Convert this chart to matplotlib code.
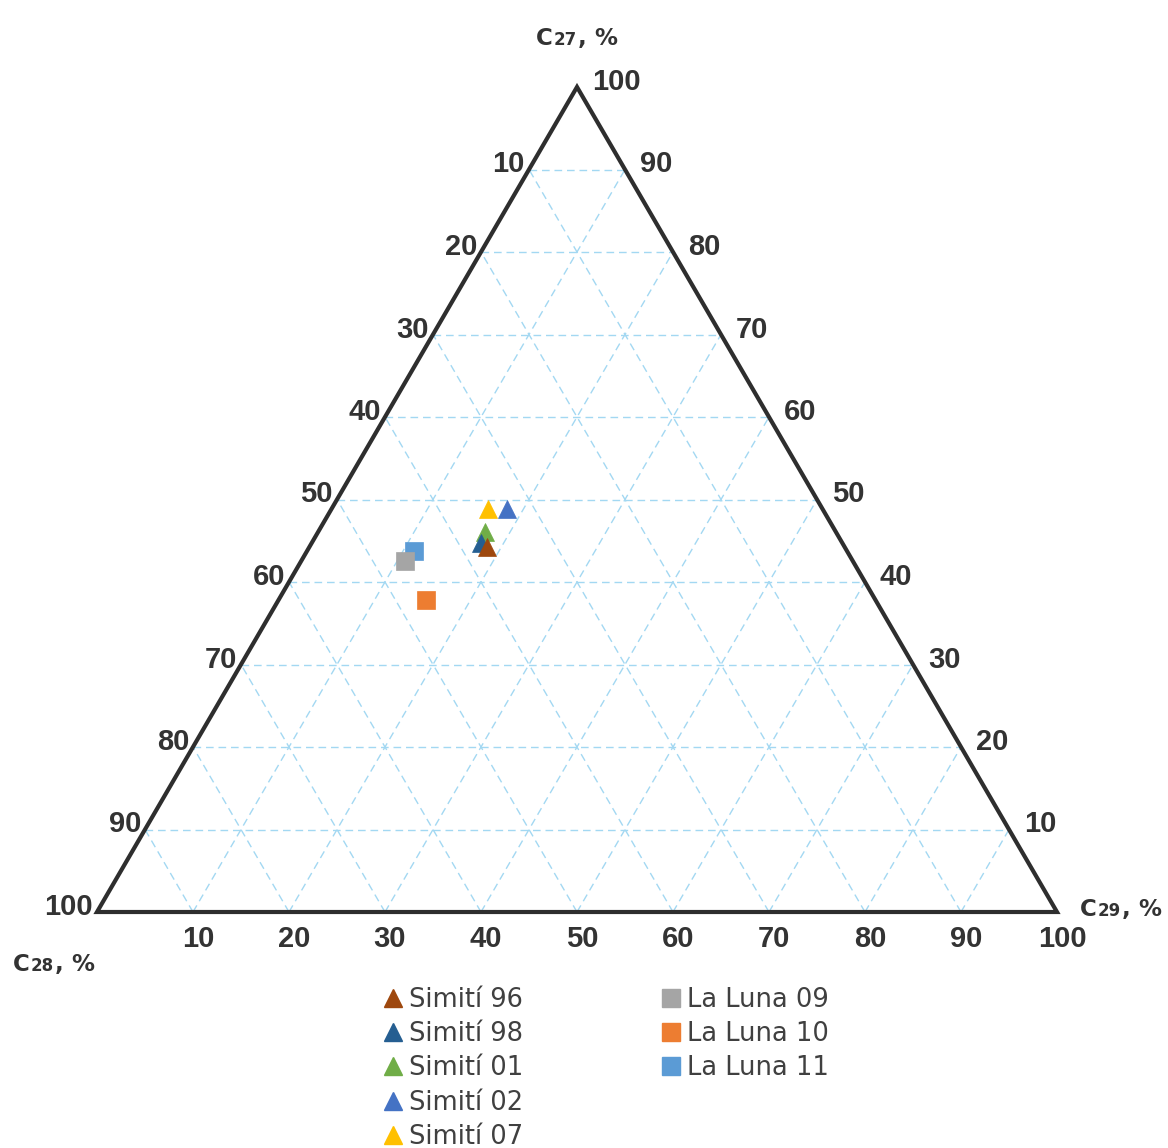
import matplotlib
matplotlib.use("Agg")
import matplotlib.pyplot as plt
from matplotlib.patches import Polygon
from matplotlib.lines import Line2D
from matplotlib.transforms import offset_copy

plt.rcParams["font.family"] = ["Liberation Sans", "DejaVu Sans"]

# Sterane composition (%): C27, C28, C29
simiti_names = ["Simití 96", "Simití 98", "Simití 01", "Simití 02", "Simití 07"]
simiti_c27 = [44.2, 44.7, 46.1, 48.9, 48.9]
simiti_c28 = [37.3, 37.7, 36.5, 32.8, 34.8]
simiti_c29 = [18.5, 17.6, 17.4, 18.3, 16.3]
simiti_colors = ["#9e480e", "#255e91", "#70ad47", "#4472c4", "#ffc000"]

luna_names = ["La Luna 09", "La Luna 10", "La Luna 11"]
luna_c27 = [42.6, 37.8, 43.7]
luna_c28 = [46.6, 46.8, 45.1]
luna_c29 = [10.8, 15.4, 11.2]
luna_colors = ["#a5a5a5", "#ed7d31", "#5b9bd5"]

tick_values = [10, 20, 30, 40, 50, 60, 70, 80, 90, 100]

TEXT = "#333333"
GRID = "#a3d8f2"


def to_xy(c27, c28, c29):
    s = c27 + c28 + c29
    a, c = c27 / s * 100, c29 / s * 100
    return c + a / 2.0, a


fig = plt.figure(figsize=(11.68, 11.48), dpi=100)
ax = fig.add_axes([0, 0, 1, 1])
ax.set_xlim(-97 / 9.6, (1168 - 97) / 9.6)
ax.set_ylim((912 - 1148) / 8.25, 912 / 8.25)
ax.axis("off")


def off(dx, dy):
    return offset_copy(ax.transData, fig=fig, x=dx, y=dy, units="dots")


# dashed ternary grid
for k in range(10, 100, 10):
    gl = dict(color=GRID, lw=1.0, ls=(0, (5.5, 3.5)), zorder=1)
    ax.plot([k / 2, 100 - k / 2], [k, k], **gl)                 # constant C27
    ax.plot([k, (100 + k) / 2], [0, 100 - k], **gl)             # constant C29
    ax.plot([100 - k, (100 - k) / 2], [0, 100 - k], **gl)       # constant C28

# triangle frame
ax.add_patch(Polygon([[0, 0], [100, 0], [50, 100]], closed=True, fill=False,
                     edgecolor="#2e2e2e", lw=3.0, joinstyle="miter", zorder=3))

tick_kw = dict(fontsize=21, fontweight="bold", color=TEXT, zorder=4)
for v in tick_values:
    # C29 along the base
    ax.text(v, 0, str(v), transform=off(5, -27), ha="center", va="center", **tick_kw)
    # C28 along the left side
    ax.text((100 - v) / 2, 100 - v, str(v), transform=off(-4, 5),
            ha="right", va="center", **tick_kw)
    # C27 along the right side
    ax.text(100 - v / 2, v, str(v), transform=off(15, 5),
            ha="left", va="center", **tick_kw)


def axis_title(x, y, dx, dy, sub):
    kw = dict(fontweight="bold", color=TEXT, va="baseline", ha="left",
              family=["DejaVu Sans"])
    ax.text(x, y, "C", transform=off(dx, dy), fontsize=16.5, **kw)
    ax.text(x, y, sub, transform=off(dx + 18, dy), fontsize=12, **kw)
    ax.text(x, y, ",", transform=off(dx + 42, dy), fontsize=16.5, **kw)
    ax.text(x, y, "%", transform=off(dx + 58, dy), fontsize=16.5, **kw)


axis_title(50, 100, 536 - 577, 87 - 45, "27")
axis_title(0, 0, 13 - 97, 912 - 971, "28")
axis_title(100, 0, 1080 - 1057, 912 - 916, "29")

# samples
for i, (name, a, b, c, col) in enumerate(zip(simiti_names, simiti_c27, simiti_c28,
                                             simiti_c29, simiti_colors)):
    x, y = to_xy(a, b, c)
    ax.plot([x], [y], ls="none", marker="^", ms=13, color=col, mec=col, mew=0.5,
            zorder=20 - i)
for i, (name, a, b, c, col) in enumerate(zip(luna_names, luna_c27, luna_c28,
                                             luna_c29, luna_colors)):
    x, y = to_xy(a, b, c)
    ax.plot([x], [y], ls="none", marker="s", ms=13, color=col, mec=col, mew=0.5,
            zorder=10 - i)

leg_kw = dict(frameon=False, prop={"family": "DejaVu Sans", "size": 18.5},
              labelcolor="#404040", handlelength=0.74, handletextpad=0.28,
              borderpad=0, borderaxespad=0, labelspacing=0.32, loc="upper left")
h1 = [Line2D([], [], ls="none", marker="^", ms=13, color=c) for c in simiti_colors]
h2 = [Line2D([], [], ls="none", marker="s", ms=13.5, color=c) for c in luna_colors]
leg1 = fig.legend(h1, simiti_names, bbox_to_anchor=(383 / 1168, 1 - 987 / 1148), **leg_kw)
leg2 = fig.legend(h2, luna_names, bbox_to_anchor=(661 / 1168, 1 - 987 / 1148), **leg_kw)

fig.savefig("out.png", dpi=100, facecolor="white")
